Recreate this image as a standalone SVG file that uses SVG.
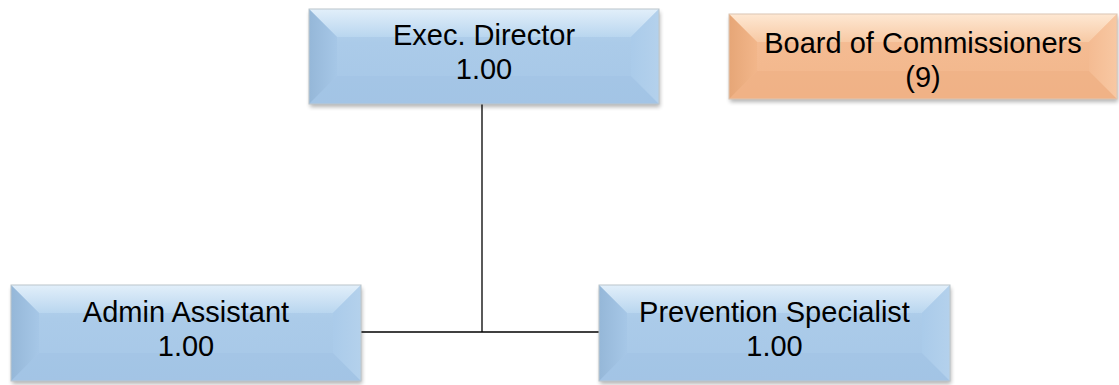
<svg xmlns="http://www.w3.org/2000/svg" width="1119" height="385" viewBox="0 0 1119 385">
  <defs>
    <style>
      .lbl { font-family: "Liberation Sans", Arial, sans-serif; font-size: 29px; fill: #000; text-anchor: middle; }
      .edge { stroke: #000; stroke-width: 1.3; fill: none; }
      .frame { fill: none; stroke: #bcc6cc; stroke-width: 1; }
      .frameO { fill: none; stroke: #dcc6b4; stroke-width: 1; }
      .lb { fill: url(#blueLeft); }
      .rb { fill: url(#blueRight); }
      .tb { fill: url(#blueTop); }
      .bb { fill: #9fc2e3; opacity: 0.5; }
      .lo { fill: url(#orLeft); }
      .ro { fill: url(#orRight); }
      .to { fill: url(#orTop); }
      .bo { fill: #eeae82; opacity: 0.5; }
    </style>
    <filter id="sh" x="-5%" y="-10%" width="110%" height="130%">
      <feGaussianBlur in="SourceAlpha" stdDeviation="2"/>
      <feOffset dx="1" dy="3" result="b"/>
      <feComponentTransfer><feFuncA type="linear" slope="0.3"/></feComponentTransfer>
      <feMerge><feMergeNode/><feMergeNode in="SourceGraphic"/></feMerge>
    </filter>
    <linearGradient id="blueFill" x1="0" y1="0" x2="0" y2="1">
      <stop offset="0" stop-color="#bcd7ef"/>
      <stop offset="0.35" stop-color="#abcbe9"/>
      <stop offset="1" stop-color="#a6c7e7"/>
    </linearGradient>
    <linearGradient id="blueLeft" x1="0" y1="0" x2="1" y2="0">
      <stop offset="0" stop-color="#95b7d8"/>
      <stop offset="1" stop-color="#a6c7e7"/>
    </linearGradient>
    <linearGradient id="blueRight" x1="0" y1="0" x2="1" y2="0">
      <stop offset="0" stop-color="#aacbea"/>
      <stop offset="1" stop-color="#b4d1ec"/>
    </linearGradient>
    <linearGradient id="blueTop" x1="0" y1="0" x2="0" y2="1">
      <stop offset="0" stop-color="#e2effa"/>
      <stop offset="1" stop-color="#b9d6ef"/>
    </linearGradient>
    <linearGradient id="orFill" x1="0" y1="0" x2="0" y2="1">
      <stop offset="0" stop-color="#f8cca8"/>
      <stop offset="0.35" stop-color="#f4bb92"/>
      <stop offset="1" stop-color="#f2b68a"/>
    </linearGradient>
    <linearGradient id="orLeft" x1="0" y1="0" x2="1" y2="0">
      <stop offset="0" stop-color="#e6a677"/>
      <stop offset="1" stop-color="#f2b68a"/>
    </linearGradient>
    <linearGradient id="orRight" x1="0" y1="0" x2="1" y2="0">
      <stop offset="0" stop-color="#f4bb92"/>
      <stop offset="1" stop-color="#f8c8a3"/>
    </linearGradient>
    <linearGradient id="orTop" x1="0" y1="0" x2="0" y2="1">
      <stop offset="0" stop-color="#fee8d3"/>
      <stop offset="1" stop-color="#f7c9a4"/>
    </linearGradient>
  </defs>

  <g id="connectors">
    <line class="edge" x1="482" y1="104" x2="482" y2="332"/>
    <line class="edge" x1="361" y1="332" x2="599" y2="332"/>
  </g>

  <g id="node-exec">
    <g filter="url(#sh)">
      <rect x="309" y="9" width="350" height="95" fill="url(#blueFill)"/>
    </g>
    <polygon class="tb" points="309,9 659,9 631,37 337,37"/>
    <polygon class="bb" points="309,104 659,104 631,76 337,76"/>
    <polygon class="lb" points="309,9 337,37 337,76 309,104"/>
    <polygon class="rb" points="659,9 631,37 631,76 659,104"/>
    <rect class="frame" x="309" y="9" width="350" height="95"/>
    <text class="lbl" x="484" y="45">Exec. Director</text>
    <text class="lbl" x="484" y="79">1.00</text>
  </g>

  <g id="node-board">
    <g filter="url(#sh)">
      <rect x="729" y="14" width="388" height="85" fill="url(#orFill)"/>
    </g>
    <polygon class="to" points="729,14 1117,14 1089,42 757,42"/>
    <polygon class="bo" points="729,99 1117,99 1089,71 757,71"/>
    <polygon class="lo" points="729,14 757,42 757,71 729,99"/>
    <polygon class="ro" points="1117,14 1089,42 1089,71 1117,99"/>
    <rect class="frameO" x="729" y="14" width="388" height="85"/>
    <text class="lbl" x="923" y="53">Board of Commissioners</text>
    <text class="lbl" x="923" y="87">(9)</text>
  </g>

  <g id="node-admin">
    <g filter="url(#sh)">
      <rect x="11" y="285" width="350" height="96" fill="url(#blueFill)"/>
    </g>
    <polygon class="tb" points="11,285 361,285 333,313 39,313"/>
    <polygon class="bb" points="11,381 361,381 333,353 39,353"/>
    <polygon class="lb" points="11,285 39,313 39,353 11,381"/>
    <polygon class="rb" points="361,285 333,313 333,353 361,381"/>
    <rect class="frame" x="11" y="285" width="350" height="96"/>
    <text class="lbl" x="186" y="322">Admin Assistant</text>
    <text class="lbl" x="186" y="356">1.00</text>
  </g>

  <g id="node-prevention">
    <g filter="url(#sh)">
      <rect x="599" y="285" width="351" height="96" fill="url(#blueFill)"/>
    </g>
    <polygon class="tb" points="599,285 950,285 922,313 627,313"/>
    <polygon class="bb" points="599,381 950,381 922,353 627,353"/>
    <polygon class="lb" points="599,285 627,313 627,353 599,381"/>
    <polygon class="rb" points="950,285 922,313 922,353 950,381"/>
    <rect class="frame" x="599" y="285" width="351" height="96"/>
    <text class="lbl" x="774.5" y="322">Prevention Specialist</text>
    <text class="lbl" x="774.5" y="356">1.00</text>
  </g>
</svg>
